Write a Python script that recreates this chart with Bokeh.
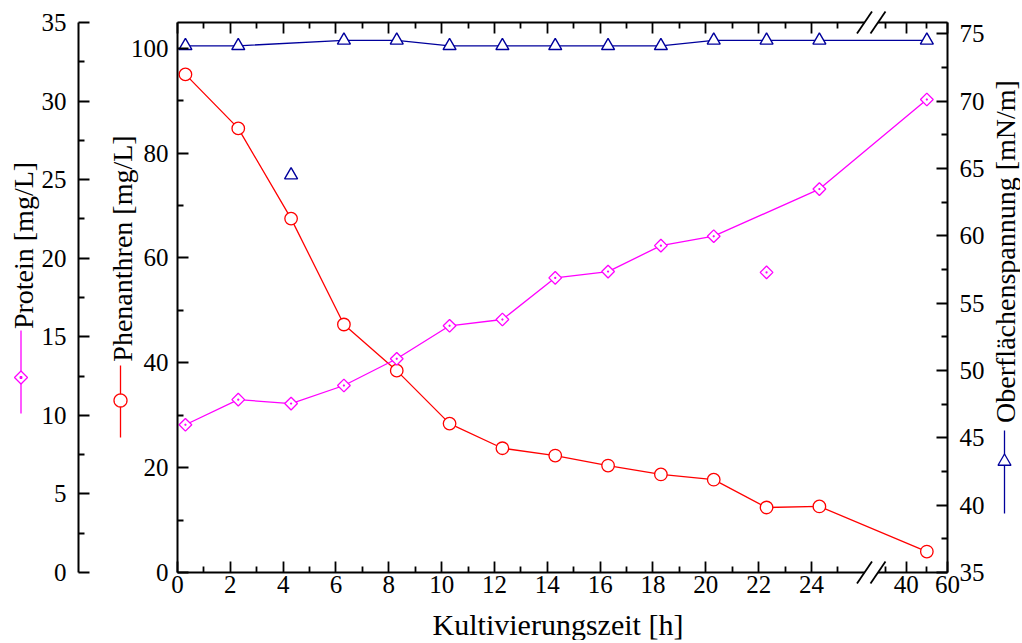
import math
from bokeh.plotting import figure
from bokeh.models import (Range1d, LinearAxis, FixedTicker, CustomJSTickFormatter,
                          Label, Arrow, PolyAnnotation)
from bokeh.embed import file_html
from bokeh.resources import INLINE

# ---------------- data ----------------
time_h = [0.3, 2.3, 4.3, 6.3, 8.3, 10.3, 12.3, 14.3, 16.3, 18.3, 20.3, 22.3, 24.3, 50.0]
protein_mg_l = [9.4, 11.0, 10.75, 11.9, 13.6, 15.7, 16.1, 18.75, 19.15, 20.8, 21.4, 19.1, 24.4, 30.1]
protein_on_line = [True, True, True, True, True, True, True, True, True, True, True, False, True, True]
phenanthren_mg_l = [95.0, 84.7, 67.5, 47.3, 38.5, 28.4, 23.7, 22.3, 20.4, 18.7, 17.7, 12.4, 12.6, 4.0]
tension_mn_m = [74.1, 74.1, 64.5, 74.5, 74.5, 74.1, 74.1, 74.1, 74.1, 74.1, 74.5, 74.5, 74.5, 74.5]
tension_on_line = [True, True, False, True, True, True, True, True, True, True, True, True, True, True]

x_major_h = [0, 2, 4, 6, 8, 10, 12, 14, 16, 18, 20, 22, 24, 40, 60]
x_minor_h = [1, 3, 5, 7, 9, 11, 13, 15, 17, 19, 21, 23, 25, 30, 50]
phen_major = [0, 20, 40, 60, 80, 100]
phen_minor = [10, 30, 50, 70, 90]
prot_major = [0, 5, 10, 15, 20, 25, 30, 35]
prot_minor = [2.5, 7.5, 12.5, 17.5, 22.5, 27.5, 32.5]
tens_major = [35, 40, 45, 50, 55, 60, 65, 70, 75]
tens_minor = [37.5, 42.5, 47.5, 52.5, 57.5, 62.5, 67.5, 72.5]

title_x = "Kultivierungszeit [h]"
title_prot = "Protein [mg/L]"
title_phen = "Phenanthren [mg/L]"
title_tens = "Oberflächenspannung [mN/m]"

C_PROT = "#ff00ff"
C_PHEN = "#ff0000"
C_TENS = "#00009c"
FONT = "Liberation Serif"
TICK_SIZE = "25px"
TITLE_SIZE = "28px"
XTITLE_SIZE = "30px"

# ---------------- layout / broken time axis ----------------
W, H = 1020, 640                    # canvas
PL, PR, PT, PB = 177, 947, 22, 572  # plot area (px)
AREA_W, AREA_H = PR - PL, PB - PT
BREAK_H = 26.0
SEG2_H0, SEG2_U0, SEG2_SLOPE = 40.0, 27.586, 0.0782
X_END = SEG2_U0 + (60 - SEG2_H0) * SEG2_SLOPE
PHEN_TOP = 104.9
PROT_TOP = 35.0
TENS_LO, TENS_HI = 35.0, 75.83
PROT_AXIS_PX = 78


def axis_u(t):
    return round(t if t <= BREAK_H else SEG2_U0 + (t - SEG2_H0) * SEG2_SLOPE, 5)


def X(px):
    return (px - PL) * X_END / AREA_W


def Y(py):
    return (PB - py) * PHEN_TOP / AREA_H


def ext_range(lo, hi):
    k = (hi - lo) / AREA_H
    return Range1d(lo - (H - PB) * k, hi + PT * k)


p = figure(width=W, height=H, min_border=0,
           x_range=Range1d(X(0), X(W)), y_range=ext_range(0, PHEN_TOP),
           x_axis_location=None, y_axis_location=None,
           output_backend="svg", toolbar_location=None,
           background_fill_color="white", border_fill_color="white",
           outline_line_color=None)
p.grid.visible = False
p.extra_y_ranges = {"protein": ext_range(0, PROT_TOP), "tension": ext_range(TENS_LO, TENS_HI)}

u_all = [axis_u(t) for t in time_h]

# Phenanthren
p.line(u_all, phenanthren_mg_l, line_color=C_PHEN, line_width=1.3)
p.scatter(u_all, phenanthren_mg_l, marker="circle", size=12.5, line_color=C_PHEN,
          fill_color="white", line_width=1.3)

# Protein
pu = [u for u, k in zip(u_all, protein_on_line) if k]
pv = [v for v, k in zip(protein_mg_l, protein_on_line) if k]
p.line(pu, pv, line_color=C_PROT, line_width=1.3, y_range_name="protein")
p.scatter(u_all, protein_mg_l, marker="square_dot", angle=math.pi / 4, size=9,
          line_color=C_PROT, fill_color="white", line_width=1.3, y_range_name="protein")

# Surface tension
tu = [u for u, k in zip(u_all, tension_on_line) if k]
tv = [v for v, k in zip(tension_mn_m, tension_on_line) if k]
p.line(tu, tv, line_color=C_TENS, line_width=1.3, y_range_name="tension")
p.scatter(u_all, tension_mn_m, marker="triangle", size=13, line_color=C_TENS,
          fill_color="white", line_width=1.4, y_range_name="tension")


def style(ax, standoff):
    ax.axis_line_color = "black"
    ax.axis_line_width = 2
    ax.major_tick_in = 11
    ax.major_tick_out = 0
    ax.minor_tick_in = 6
    ax.minor_tick_out = 0
    ax.major_tick_line_width = 1.8
    ax.minor_tick_line_width = 1.8
    ax.major_tick_line_color = "black"
    ax.minor_tick_line_color = "black"
    ax.major_label_text_font = FONT
    ax.major_label_text_font_size = TICK_SIZE
    ax.major_label_text_color = "black"
    ax.major_label_standoff = standoff


x_ticker = FixedTicker(ticks=[axis_u(t) for t in x_major_h],
                       minor_ticks=[axis_u(t) for t in x_minor_h])
x_fmt = CustomJSTickFormatter(
    args=dict(b=BREAK_H, h0=SEG2_H0, u0=SEG2_U0, s=SEG2_SLOPE),
    code="const t = tick <= b + 1e-6 ? tick : h0 + (tick - u0) / s; return Math.round(t).toString();")

xa = LinearAxis(ticker=x_ticker, formatter=x_fmt, fixed_location=0, bounds=(0, X_END))
style(xa, 3)
p.add_layout(xa, "below")

top = LinearAxis(ticker=x_ticker, formatter=CustomJSTickFormatter(code="return '';"),
                 fixed_location=PHEN_TOP, bounds=(0, X_END))
style(top, 0)
top.major_label_text_font_size = "0px"
p.add_layout(top, "above")

ya = LinearAxis(ticker=FixedTicker(ticks=phen_major, minor_ticks=phen_minor),
                fixed_location=0, bounds=(0, PHEN_TOP))
style(ya, 9)
p.add_layout(ya, "left")

pa = LinearAxis(y_range_name="protein", fixed_location=X(PROT_AXIS_PX), bounds=(0, PROT_TOP),
                ticker=FixedTicker(ticks=prot_major, minor_ticks=prot_minor))
style(pa, 12)
p.add_layout(pa, "left")

ra = LinearAxis(y_range_name="tension", fixed_location=X_END, bounds=(TENS_LO, TENS_HI),
                ticker=FixedTicker(ticks=tens_major, minor_ticks=tens_minor))
style(ra, 12)
p.add_layout(ra, "right")

# ---------------- axis break marks ----------------
gap_l, gap_r = 864, 877.5
for base in (PB, PT):
    p.add_layout(Arrow(end=None, x_start=X(gap_l), y_start=Y(base),
                       x_end=X(gap_r), y_end=Y(base),
                       line_color="white", line_width=6))
    for cx in (gap_l, gap_r):
        p.add_layout(Arrow(end=None, x_start=X(cx - 7.5), y_start=Y(base + 11),
                           x_end=X(cx + 7.5), y_end=Y(base - 11),
                           line_color="black", line_width=1.8))


# ---------------- axis titles ----------------
def vtitle(text, px, py):
    p.add_layout(Label(x=X(px), y=Y(py), text=text, angle=math.pi / 2,
                       text_align="center", text_baseline="middle",
                       text_font=FONT, text_font_size=TITLE_SIZE, text_color="black"))


vtitle(title_prot, 23, 245)
vtitle(title_phen, 121.5, 248)
vtitle(title_tens, 1005, 251)
p.add_layout(Label(x=X(557.5), y=Y(640), text=title_x,
                   text_align="center", text_baseline="bottom",
                   text_font=FONT, text_font_size=XTITLE_SIZE, text_color="black"))


# ---------------- legend symbols beside the titles ----------------
def vline(px, py0, py1, color):
    p.add_layout(Arrow(end=None, x_start=X(px), y_start=Y(py0),
                       x_end=X(px), y_end=Y(py1), line_color=color, line_width=1.3))


def poly(pts, color, fill="white"):
    p.add_layout(PolyAnnotation(xs=[X(a) for a, b in pts], ys=[Y(b) for a, b in pts],
                                fill_color=fill, fill_alpha=1, line_color=color,
                                line_alpha=1, line_width=1.3))


# protein: diamond with dot
vline(20.5, 330, 413, C_PROT)
cx, cy, r = 20.5, 377, 6.5
poly([(cx, cy - r), (cx + r, cy), (cx, cy + r), (cx - r, cy)], C_PROT)
poly([(cx - 0.8, cy - 0.8), (cx + 0.8, cy - 0.8), (cx + 0.8, cy + 0.8), (cx - 0.8, cy + 0.8)],
     C_PROT, fill=C_PROT)

# phenanthren: circle
vline(120, 365, 437, C_PHEN)
cx, cy, r = 120, 400, 6.5
poly([(cx + r * math.cos(2 * math.pi * k / 32), cy + r * math.sin(2 * math.pi * k / 32))
      for k in range(32)], C_PHEN)

# surface tension: triangle (apex up)
vline(1004, 430, 513, C_TENS)
cx, cy, r = 1004, 461, 6.5
h = r * math.sqrt(3)
poly([(cx - r, cy + h / 3), (cx + r, cy + h / 3), (cx, cy - 2 * h / 3)], C_TENS)

open("out.html", "w", encoding="utf-8").write(file_html(p, INLINE))
